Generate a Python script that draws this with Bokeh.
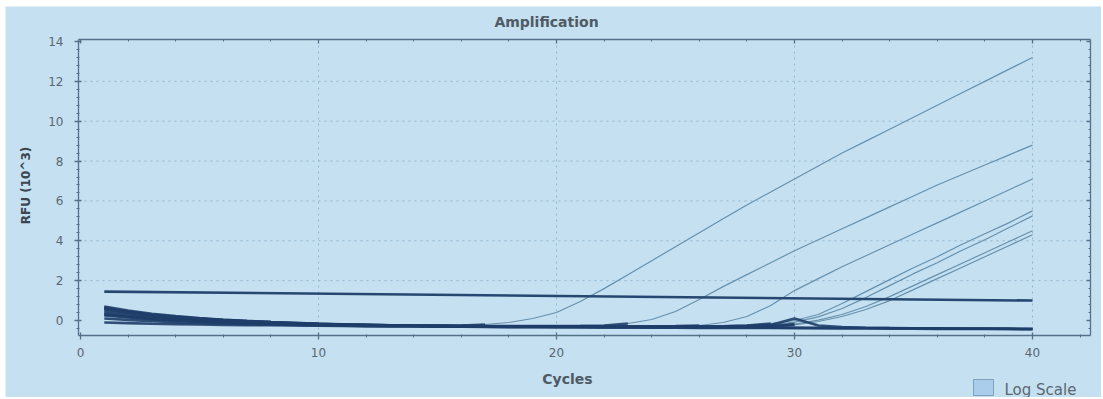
from bokeh.plotting import figure
from bokeh.models import Range1d, LinearAxis, Label, SingleIntervalTicker
from bokeh.embed import file_html
from bokeh.resources import INLINE

# ---------------- data ----------------
cycles = list(range(1, 41))
x_ticks = [0, 10, 20, 30, 40]
y_ticks = [0, 2, 4, 6, 8, 10, 12, 14]

sample_1 = [0.55, 0.38, 0.25, 0.15, 0.07, 0.0, -0.05, -0.1, -0.14, -0.17, -0.2, -0.22, -0.24, -0.25, -0.26, -0.25,
            -0.2, -0.1, 0.1, 0.4, 0.95, 1.6, 2.3, 3.0, 3.7, 4.4, 5.1, 5.8, 6.45, 7.1, 7.75, 8.4, 9.0, 9.6, 10.2,
            10.8, 11.4, 12.0, 12.6, 13.2]
sample_2 = [0.45, 0.3, 0.18, 0.1, 0.03, -0.03, -0.08, -0.12, -0.16, -0.19, -0.21, -0.23, -0.25, -0.26, -0.27,
            -0.28, -0.28, -0.28, -0.28, -0.28, -0.27,
            -0.25, -0.15, 0.05, 0.45, 1.05, 1.7, 2.3, 2.9, 3.5, 4.05, 4.6, 5.15, 5.7, 6.25, 6.8, 7.3, 7.8, 8.3, 8.8]
sample_3 = [0.65, 0.45, 0.3, 0.18, 0.1, 0.03, -0.03, -0.08, -0.12, -0.16, -0.19, -0.22, -0.24, -0.26, -0.27,
            -0.28, -0.29, -0.3, -0.3, -0.3, -0.3, -0.3, -0.3, -0.29, -0.28,
            -0.25, -0.1, 0.2, 0.75, 1.5, 2.1, 2.7, 3.25, 3.8, 4.35, 4.9, 5.45, 6.0, 6.55, 7.1]
sample_4 = [0.35, 0.22, 0.12, 0.04, -0.02, -0.07, -0.11, -0.15, -0.18, -0.2, -0.22, -0.24, -0.25, -0.26, -0.27,
            -0.28, -0.29, -0.29, -0.3, -0.3, -0.3, -0.3, -0.3, -0.3, -0.3, -0.3, -0.29,
            -0.25, -0.15, 0.0, 0.3, 0.85, 1.45, 2.05, 2.65, 3.2, 3.8, 4.35, 4.9, 5.5]
sample_5 = [0.7, 0.5, 0.34, 0.22, 0.12, 0.04, -0.02, -0.07, -0.11, -0.15, -0.18, -0.2, -0.22, -0.24, -0.25,
            -0.26, -0.27, -0.28, -0.29, -0.29, -0.3, -0.3, -0.3, -0.3, -0.3, -0.3, -0.29,
            -0.27, -0.2, -0.08, 0.18, 0.6, 1.15, 1.75, 2.35, 2.9, 3.5, 4.05, 4.65, 5.25]
sample_6 = [0.25, 0.15, 0.07, 0.0, -0.05, -0.1, -0.13, -0.16, -0.19, -0.21, -0.23, -0.25, -0.26, -0.27, -0.28,
            -0.29, -0.3, -0.3, -0.31, -0.31, -0.31, -0.32, -0.32, -0.32, -0.32, -0.31, -0.3, -0.29,
            -0.27, -0.18, 0.02, 0.3, 0.7, 1.2, 1.75, 2.3, 2.85, 3.4, 3.95, 4.5]
sample_7 = [0.6, 0.42, 0.28, 0.17, 0.08, 0.01, -0.05, -0.09, -0.13, -0.17, -0.2, -0.22, -0.24, -0.26, -0.27,
            -0.28, -0.29, -0.3, -0.3, -0.31, -0.31, -0.32, -0.32, -0.32, -0.32, -0.32, -0.31, -0.3,
            -0.3, -0.22, -0.05, 0.2, 0.55, 1.0, 1.55, 2.1, 2.65, 3.2, 3.75, 4.3]

neg_1 = [0.3, 0.18, 0.08, 0.0, -0.06, -0.11, -0.15, -0.18, -0.21, -0.23, -0.25, -0.27, -0.28, -0.29, -0.3,
         -0.31, -0.32, -0.33, -0.33, -0.34, -0.34, -0.35, -0.35, -0.36, -0.36, -0.37, -0.37, -0.38, -0.38, -0.39,
         -0.39, -0.4, -0.4, -0.41, -0.41, -0.42, -0.42, -0.43, -0.43, -0.44]
neg_2 = [0.1, 0.03, -0.03, -0.08, -0.12, -0.15, -0.18, -0.2, -0.22, -0.24, -0.26, -0.27, -0.28, -0.29, -0.3,
         -0.3, -0.31, -0.32, -0.32, -0.33, -0.33, -0.33, -0.34, -0.34, -0.34, -0.35, -0.35, -0.35, -0.36, -0.36,
         -0.37, -0.37, -0.38, -0.38, -0.39, -0.39, -0.4, -0.4, -0.41, -0.42]
neg_3 = [-0.1, -0.13, -0.16, -0.18, -0.2, -0.22, -0.23, -0.24, -0.25, -0.26, -0.27, -0.28, -0.28, -0.29, -0.29,
         -0.3, -0.3, -0.31, -0.31, -0.31, -0.32, -0.32, -0.32, -0.32, -0.31, -0.3, -0.29, -0.27, -0.22, 0.1,
         -0.25, -0.33, -0.36, -0.38, -0.39, -0.4, -0.41, -0.41, -0.42, -0.43]

threshold_cycles = [1, 40]
threshold_rfu = [1.45, 1.0]

title_text = "Amplification"
x_title = "Cycles"
y_title = "RFU (10^3)"
log_text = "Log Scale"

# ---------------- layout (pixels) ----------------
W, H = 1101, 397
FRAME_L, FRAME_T = 5, 6                 # plot area covers the page from here
X0_PX, X_PX_PER = 80.0, 23.8            # where cycle 0 sits, pixels per cycle
Y0_PX, Y_PX_PER = 320.0, 19.93          # where RFU 0 sits, pixels per unit
BOX_L, BOX_R, BOX_T, BOX_B = 78, 1090, 39, 335   # the drawn axes box


def dx(px):
    return (px - X0_PX) / X_PX_PER


def dy(py):
    return (Y0_PX - py) / Y_PX_PER


def sx(px):
    return px - FRAME_L


def sy(py):
    return H - py


BG = "#c4e0f1"
TXT = "#5c6670"
AXIS = "#56708a"
CURVE = "#6890ac"
DARK = "#1f3d69"
FONT = "DejaVu Sans"

p = figure(width=W, height=H, output_backend="svg", toolbar_location=None,
           x_range=Range1d(dx(FRAME_L), dx(W)), y_range=Range1d(dy(H), dy(FRAME_T)),
           x_axis_location=None, y_axis_location=None,
           min_border_left=FRAME_L, min_border_right=0, min_border_top=FRAME_T, min_border_bottom=0)
p.background_fill_color = BG
p.border_fill_color = "#ffffff"
p.outline_line_color = None
p.xgrid.visible = False
p.ygrid.visible = False

xb = (dx(BOX_L), dx(BOX_R))
yb = (dy(BOX_B), dy(BOX_T))


def style(ax, tin, tout, labels=True):
    ax.axis_line_color = AXIS
    ax.axis_line_width = 1.3
    ax.major_tick_line_color = AXIS
    ax.minor_tick_line_color = AXIS
    ax.major_tick_line_width = 1.3
    ax.major_tick_in = tin
    ax.major_tick_out = tout
    ax.minor_tick_in = max(tin - 2, 0)
    ax.minor_tick_out = max(tout - 2, 0)
    ax.major_label_text_font = FONT
    ax.major_label_text_font_size = "12px"
    ax.major_label_text_color = TXT if labels else None


xaxis = LinearAxis(ticker=SingleIntervalTicker(interval=10, num_minor_ticks=5),
                   fixed_location=dy(BOX_B), bounds=xb, major_label_standoff=8)
style(xaxis, 3, 4)
yaxis = LinearAxis(ticker=SingleIntervalTicker(interval=2, num_minor_ticks=5),
                   fixed_location=dx(BOX_L), bounds=yb, major_label_standoff=11)
style(yaxis, 3, 4)
top = LinearAxis(ticker=SingleIntervalTicker(interval=10, num_minor_ticks=5),
                 fixed_location=dy(BOX_T), bounds=xb)
style(top, 4, 0, labels=False)
right = LinearAxis(ticker=SingleIntervalTicker(interval=2, num_minor_ticks=5),
                   fixed_location=dx(BOX_R), bounds=yb)
style(right, 4, 0, labels=False)
p.add_layout(xaxis, "below")
p.add_layout(yaxis, "left")
p.add_layout(top, "above")
p.add_layout(right, "right")

# dotted grid, from the tick lists
gy = [t for t in y_ticks if 0 < t < 14]
p.segment(x0=[xb[0]] * len(gy), x1=[xb[1]] * len(gy), y0=gy, y1=gy,
          line_color="#93b6cf", line_dash="2 4", line_width=1)
gx = [t for t in x_ticks if t > 0]
p.segment(x0=gx, x1=gx, y0=[yb[0]] * len(gx), y1=[yb[1]] * len(gx),
          line_color="#93b6cf", line_dash="2 4", line_width=1)

samples = [sample_1, sample_2, sample_3, sample_4, sample_5, sample_6, sample_7]
for s in samples:
    p.line(cycles, s, line_color=CURVE, line_width=1.2)
for s in samples:
    k = next(i for i in range(8, len(s)) if s[i] > -0.12)
    p.line(cycles[:k], s[:k], line_color=DARK, line_width=2.6, line_alpha=0.85)
for n in (neg_1, neg_2, neg_3):
    p.line(cycles, n, line_color=DARK, line_width=2.6, line_alpha=0.9)

p.line(threshold_cycles, threshold_rfu, line_color="#274670", line_width=2.6)

# texts
p.add_layout(Label(x=sx(546), y=sy(21), x_units="screen", y_units="screen", text=title_text,
                   text_align="center", text_baseline="middle", text_font=FONT,
                   text_font_size="14px", text_font_style="bold", text_color="#505a64"))
p.add_layout(Label(x=sx(567), y=sy(378), x_units="screen", y_units="screen", text=x_title,
                   text_align="center", text_baseline="middle", text_font=FONT,
                   text_font_size="14px", text_font_style="bold", text_color="#505a64"))
p.add_layout(Label(x=sx(25), y=sy(185), x_units="screen", y_units="screen", text=y_title, angle=90,
                   angle_units="deg", text_align="center", text_baseline="middle", text_font=FONT,
                   text_font_size="12px", text_font_style="bold", text_color="#3a4550"))
p.add_layout(Label(x=sx(983), y=sy(387), x_units="screen", y_units="screen", text="\u2003\u2002",
                   text_align="center", text_baseline="middle", text_font=FONT, text_font_size="12px",
                   background_fill_color="#a9cdea", border_line_color="#7f9fba", padding=1))
p.add_layout(Label(x=sx(1004), y=sy(389), x_units="screen", y_units="screen", text=log_text,
                   text_align="left", text_baseline="middle", text_font=FONT,
                   text_font_size="15px", text_color="#5c6670"))

open("out.html", "w").write(file_html(p, INLINE))
